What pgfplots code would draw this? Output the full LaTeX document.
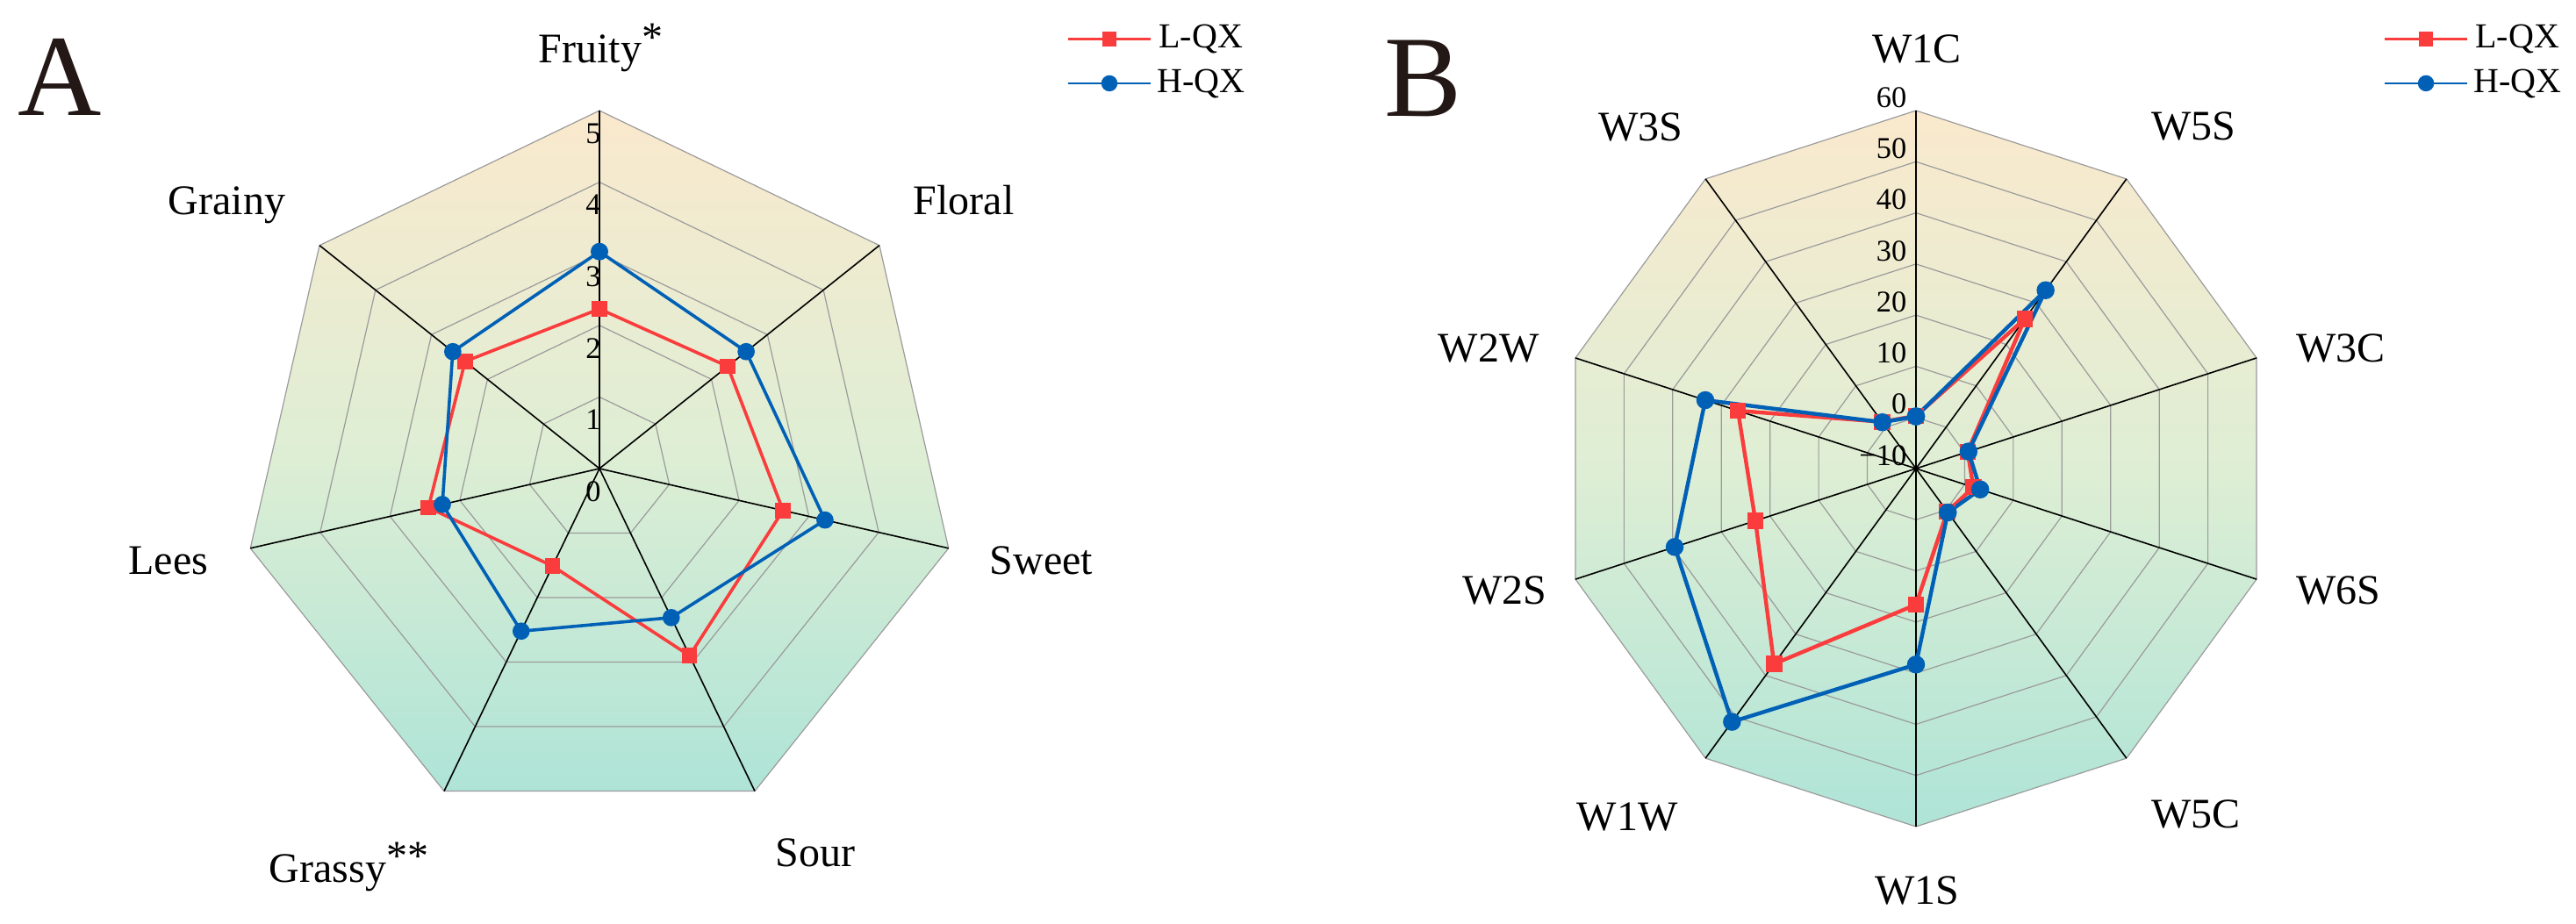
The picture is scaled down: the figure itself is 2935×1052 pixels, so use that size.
\documentclass[border=0pt]{standalone}
\usepackage{fontspec}
\setmainfont{Liberation Serif}
\usepackage{pgfplots}
\pgfplotsset{compat=1.18}
\usepgfplotslibrary{polar}

\definecolor{lqxred}{RGB}{250,60,60}
\definecolor{hqxblue}{RGB}{0,96,182}
\definecolor{bgtop}{RGB}{250,233,205}
\definecolor{bgmid}{RGB}{222,238,212}
\definecolor{bgbot}{RGB}{174,228,215}
\definecolor{ringgray}{RGB}{155,155,155}
\definecolor{panel}{RGB}{35,24,21}

\newcommand\catfont{\fontsize{12}{14}\selectfont}
\newcommand\tickfont{\fontsize{8.6}{10}\selectfont}
\newcommand\sig[1]{\raisebox{3.5pt}{#1}}

\pgfplotsset{
  radar/.style={
    at={#1}, anchor=center, scale only axis, width=204pt, height=204pt,
    xmin=0, xmax=360, ymin=0, hide axis, clip=false,
    legend style={at={(axis description cs:1.152,1.069)}, anchor=west,
      draw=none, fill=none, inner sep=0pt, row sep=1.5pt,
      font=\fontsize{10}{12}\selectfont, nodes={inner sep=1.5pt}},
    legend image code/.code={\draw[mark repeat=2,mark phase=2,##1,line width=0.6pt]
      plot coordinates {(0pt,0pt) (11.75pt,0pt) (23.5pt,0pt)};},
  },
  ring/.style={forget plot, draw=ringgray, line width=0.3pt, mark=none},
  spoke/.style={forget plot, draw=black, line width=0.4pt, mark=none},
  bg/.style={forget plot, draw=ringgray, line width=0.3pt, mark=none,
    top color=bgtop, bottom color=bgbot, middle color=bgmid},
  Lser/.style={color=lqxred, line width=0.9pt, mark=square*, mark size=1.75pt,
    mark options={solid, fill=lqxred, draw=lqxred}},
  Hser/.style={color=hqxblue, line width=0.9pt, mark=*, mark size=2pt,
    mark options={solid, fill=hqxblue, draw=hqxblue}},
}
\tikzset{
  tickA/.style={font=\tickfont, inner sep=0pt, anchor=center, xshift=-1.75pt, yshift=-6.5pt},
  tickB/.style={font=\tickfont, inner sep=0pt, anchor=east, xshift=-2.5pt, yshift=3.75pt},
}

\begin{document}
\begin{tikzpicture}[x=0.25pt, y=0.25pt]

% ---- A: sensory profile (0-5) ----
\begin{polaraxis}[radar={(170.75pt,129.5pt)}, ymax=5]
\addplot[bg] coordinates {(90,5) (38.571,5) (347.143,5) (295.714,5) (244.286,5) (192.857,5) (141.429,5) (90,5)};
\pgfplotsinvokeforeach{1,2,3,4}{
  \addplot[ring] coordinates {(90,#1) (38.571,#1) (347.143,#1) (295.714,#1) (244.286,#1) (192.857,#1) (141.429,#1) (90,#1)};
}
\pgfplotsinvokeforeach{90,38.571,347.143,295.714,244.286,192.857,141.429}{
  \addplot[spoke] coordinates {(#1,0) (#1,5)};
}
% Fruity, Floral, Sweet, Sour, Grassy, Lees, Grainy
\addplot[Lser] coordinates {(90,2.23) (38.571,2.29) (347.143,2.63) (295.714,2.90) (244.286,1.51) (192.857,2.45) (141.429,2.40) (90,2.23)};
\addplot[Hser] coordinates {(90,3.03) (38.571,2.62) (347.143,3.23) (295.714,2.31) (244.286,2.52) (192.857,2.25) (141.429,2.62) (90,3.03)};
\legend{L-QX,H-QX}
\pgfplotsinvokeforeach{0,...,5}{
  \node[tickA] at (axis cs:90,#1) {#1};
}
\end{polaraxis}

% ---- B: e-nose sensors (-10-60) ----
\begin{polaraxis}[radar={(545.75pt,129.5pt)}, ymax=70, y filter/.expression={y+10}]
\addplot[bg] coordinates {(90,60) (54,60) (18,60) (342,60) (306,60) (270,60) (234,60) (198,60) (162,60) (126,60) (90,60)};
\pgfplotsinvokeforeach{0,10,20,30,40,50}{
  \addplot[ring] coordinates {(90,#1) (54,#1) (18,#1) (342,#1) (306,#1) (270,#1) (234,#1) (198,#1) (162,#1) (126,#1) (90,#1)};
}
\pgfplotsinvokeforeach{90,54,18,342,306,270,234,198,162,126}{
  \addplot[spoke] coordinates {(#1,-10) (#1,60)};
}
% W1C, W5S, W3C, W6S, W5C, W1S, W1W, W2S, W2W, W3S
\addplot[Lser, line width=1.1pt] coordinates {(90,0.3) (54,26.2) (18,0.6) (342,1.8) (306,0.4) (270,16.6) (234,37.2) (198,23.0) (162,26.6) (126,1.3) (90,0.3)};
\addplot[Hser, line width=1.1pt] coordinates {(90,0.2) (54,33.1) (18,0.8) (342,3.2) (306,0.6) (270,28.3) (234,51.2) (198,39.6) (162,33.3) (126,1.2) (90,0.2)};
\legend{L-QX,H-QX}
\node[tickB] at (axis cs:90,0) {−10};
\node[tickB] at (axis cs:90,10) {0};
\node[tickB] at (axis cs:90,20) {10};
\node[tickB] at (axis cs:90,30) {20};
\node[tickB] at (axis cs:90,40) {30};
\node[tickB] at (axis cs:90,50) {40};
\node[tickB] at (axis cs:90,60) {50};
\node[tickB] at (axis cs:90,70) {60};
\end{polaraxis}

% panel letters
\node[font=\fontsize{33}{36}\selectfont, text=panel, inner sep=0pt, anchor=base west] at (20,920) {A};
\node[font=\fontsize{33}{36}\selectfont, text=panel, inner sep=0pt, anchor=base west] at (1577,919) {B};

% category labels A
\begin{scope}[every node/.style={font=\catfont, inner sep=0pt}]
\node[anchor=base west] at (613,980) {Fruity\sig{*}};
\node[anchor=base west] at (1040,807) {Floral};
\node[anchor=base west] at (1127,398) {Sweet};
\node[anchor=base west] at (883,65) {Sour};
\node[anchor=base west] at (306,47) {Grassy\sig{**}};
\node[anchor=base east] at (238,398) {Lees};
\node[anchor=base east] at (326,807) {Grainy};
% category labels B
\node[anchor=base] at (2184,980) {W1C};
\node[anchor=base] at (2499,892) {W5S};
\node[anchor=base] at (2667,640) {W3C};
\node[anchor=base] at (2664,364) {W6S};
\node[anchor=base] at (2502,109) {W5C};
\node[anchor=base] at (2184,22) {W1S};
\node[anchor=base] at (1854,106) {W1W};
\node[anchor=base] at (1714,364) {W2S};
\node[anchor=base] at (1696,640) {W2W};
\node[anchor=base] at (1869,891) {W3S};
\end{scope}

\pgfresetboundingbox
\path[use as bounding box] (0,0) rectangle (2935,1052);
\end{tikzpicture}
\end{document}
